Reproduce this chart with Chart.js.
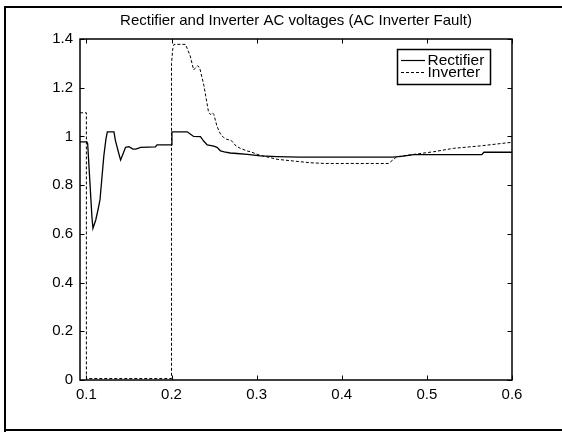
<!DOCTYPE html>
<html>
<head>
<meta charset="utf-8">
<script src="https://cdn.jsdelivr.net/npm/chart.js@4/dist/chart.umd.min.js"></script>
<style>
html,body{margin:0;padding:0;background:#fff;}
canvas{display:block;}
</style>
</head>
<body>
<canvas id="c" width="562" height="432"></canvas>
<script>
const chartTitle = 'Rectifier and Inverter AC voltages (AC Inverter Fault)';
const seriesNames = ['Rectifier', 'Inverter'];
const xTicks = [0.1, 0.2, 0.3, 0.4, 0.5, 0.6];
const yTicks = [0, 0.2, 0.4, 0.6, 0.8, 1, 1.2, 1.4];

const tRect = [0.0925, 0.1005, 0.1015, 0.103, 0.105, 0.1065, 0.1077, 0.111, 0.1136, 0.116, 0.118, 0.1205, 0.123, 0.1246, 0.1324, 0.134, 0.1375, 0.1402, 0.144, 0.146, 0.150, 0.1547, 0.158, 0.1637, 0.181, 0.183, 0.1995, 0.2005, 0.2185, 0.222, 0.226, 0.234, 0.238, 0.242, 0.2497, 0.2535, 0.2575, 0.262, 0.269, 0.277, 0.289, 0.3045, 0.324, 0.35, 0.46, 0.47, 0.485, 0.5645, 0.567, 0.6];
const vRect = [0.978, 0.978, 0.97, 0.88, 0.76, 0.67, 0.623, 0.657, 0.698, 0.74, 0.82, 0.92, 0.99, 1.019, 1.019, 0.985, 0.937, 0.903, 0.937, 0.955, 0.958, 0.948, 0.948, 0.955, 0.957, 0.965, 0.965, 1.019, 1.019, 1.01, 1.0, 0.999, 0.98, 0.965, 0.96, 0.955, 0.941, 0.937, 0.932, 0.93, 0.926, 0.92, 0.917, 0.915, 0.915, 0.918, 0.925, 0.925, 0.935, 0.935];

const tInv = [0.0925, 0.1, 0.1, 0.2, 0.2, 0.2015, 0.203, 0.2165, 0.222, 0.226, 0.2305, 0.233, 0.238, 0.2435, 0.2458, 0.248, 0.2497, 0.2536, 0.2575, 0.2614, 0.265, 0.270, 0.276, 0.281, 0.289, 0.2927, 0.3045, 0.316, 0.324, 0.3435, 0.363, 0.38, 0.455, 0.4648, 0.484, 0.5077, 0.531, 0.5625, 0.6];
const vInv = [1.097, 1.097, 0.006, 0.006, 1.3, 1.36, 1.378, 1.378, 1.33, 1.273, 1.29, 1.283, 1.21, 1.1, 1.09, 1.097, 1.09, 1.04, 1.01, 0.995, 0.988, 0.984, 0.96, 0.951, 0.94, 0.937, 0.922, 0.913, 0.906, 0.899, 0.892, 0.889, 0.889, 0.917, 0.926, 0.937, 0.951, 0.961, 0.976];

const FONT = '"Liberation Sans", Arial, sans-serif';

function toPts(ts, vs){ return ts.map((t,i)=>({x:t, y:vs[i]})); }

const framePlugin = {
  id: 'frame',
  beforeDraw(chart){
    const ctx = chart.ctx;
    ctx.save();
    ctx.fillStyle = '#fff';
    ctx.fillRect(0,0,chart.width,chart.height);
    ctx.strokeStyle = '#000';
    ctx.lineWidth = 2;
    ctx.beginPath();
    ctx.moveTo(5, 432);
    ctx.lineTo(5, 7);
    ctx.lineTo(562, 7);
    ctx.moveTo(5, 430);
    ctx.lineTo(562, 430);
    ctx.stroke();
    ctx.restore();
  },
  afterDraw(chart){
    const ctx = chart.ctx;
    const a = chart.chartArea;
    const xs = chart.scales.x, ys = chart.scales.y;
    ctx.save();
    ctx.strokeStyle = '#000';
    ctx.lineWidth = 1.5;
    ctx.strokeRect(a.left, a.top, a.right - a.left, a.bottom - a.top);
    ctx.lineWidth = 1;
    ctx.beginPath();
    const tl = 4.5;
    xTicks.forEach(v=>{
      const px = Math.round(xs.getPixelForValue(v)) + 0.5;
      ctx.moveTo(px, a.bottom); ctx.lineTo(px, a.bottom - tl);
      ctx.moveTo(px, a.top); ctx.lineTo(px, a.top + tl);
    });
    yTicks.forEach(v=>{
      const py = Math.round(ys.getPixelForValue(v)) + 0.5;
      ctx.moveTo(a.left, py); ctx.lineTo(a.left + tl, py);
      ctx.moveTo(a.right, py); ctx.lineTo(a.right - tl, py);
    });
    ctx.stroke();

    // title
    ctx.fillStyle = '#000';
    ctx.font = '15px ' + FONT;
    ctx.textAlign = 'center';
    ctx.textBaseline = 'alphabetic';
    ctx.fillText(chartTitle, (a.left + a.right) / 2, 25);

    // legend
    const lx = 397.5, ly = 49.5, lw = 93, lh = 35;
    ctx.fillStyle = '#fff';
    ctx.fillRect(lx, ly, lw, lh);
    ctx.lineWidth = 1.5;
    ctx.strokeRect(lx, ly, lw, lh);
    ctx.lineWidth = 1.2;
    ctx.beginPath();
    ctx.moveTo(401, 60.5); ctx.lineTo(425, 60.5);
    ctx.stroke();
    ctx.lineWidth = 1;
    ctx.setLineDash([3,2]);
    ctx.beginPath();
    ctx.moveTo(401, 72.5); ctx.lineTo(425, 72.5);
    ctx.stroke();
    ctx.setLineDash([]);
    ctx.fillStyle = '#000';
    ctx.textAlign = 'left';
    ctx.textBaseline = 'middle';
    ctx.font = '15.5px ' + FONT;
    ctx.fillText(seriesNames[0], 427.5, 61);
    ctx.fillText(seriesNames[1], 427.5, 72.5);
    ctx.restore();
  }
};

new Chart(document.getElementById('c'), {
  type: 'line',
  data: {
    datasets: [
      { label: seriesNames[0], data: toPts(tRect, vRect), borderColor: '#000', borderWidth: 1.3, pointRadius: 0, tension: 0, fill: false },
      { label: seriesNames[1], data: toPts(tInv, vInv), borderColor: '#000', borderWidth: 1, borderDash: [3,2], pointRadius: 0, tension: 0, fill: false }
    ]
  },
  options: {
    responsive: false,
    animation: false,
    devicePixelRatio: 1,
    layout: { padding: { top: 39, right: 50, left: 0, bottom: 0 } },
    plugins: { legend: { display: false }, title: { display: false }, tooltip: { enabled: false } },
    scales: {
      x: {
        type: 'linear', min: 0.0925, max: 0.6,
        grid: { display: false, drawTicks: false },
        border: { display: false },
        afterBuildTicks(s){ s.ticks = xTicks.map(v=>({value:v})); },
        afterFit(s){ s.height = 52; },
        ticks: { color: '#000', padding: 6, maxRotation: 0, autoSkip: false, font: { family: FONT, size: 15 },
          callback: v => String(parseFloat(Number(v).toFixed(2))) }
      },
      y: {
        type: 'linear', min: 0, max: 1.4,
        grid: { display: false, drawTicks: false },
        border: { display: false },
        afterBuildTicks(s){ s.ticks = yTicks.map(v=>({value:v})); },
        afterFit(s){ s.width = 80; },
        ticks: { color: '#000', padding: 7, autoSkip: false, font: { family: FONT, size: 15 },
          callback: v => String(parseFloat(Number(v).toFixed(2))) }
      }
    }
  },
  plugins: [framePlugin]
});
</script>
</body>
</html>
